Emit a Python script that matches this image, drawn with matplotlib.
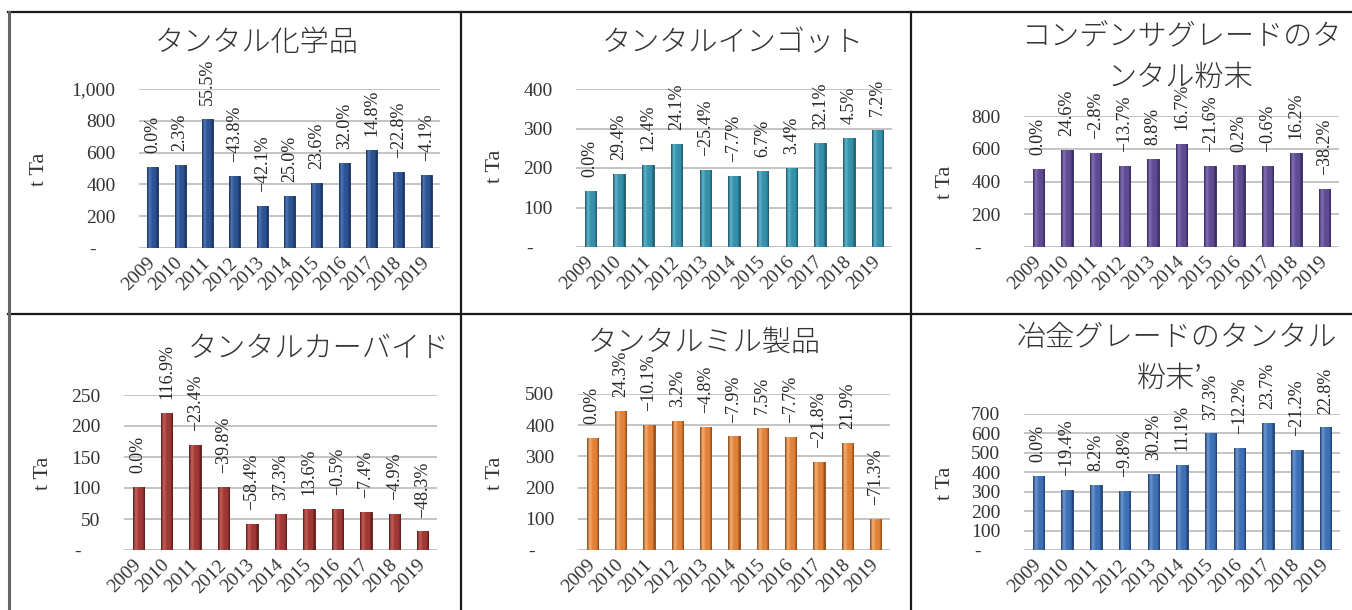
import matplotlib
matplotlib.use("Agg")
import numpy as np
import matplotlib.pyplot as plt
from matplotlib.colors import LinearSegmentedColormap
from matplotlib.lines import Line2D

# figure size in pixels (dpi 100)
W, H = 1352, 610

years = ["2009", "2010", "2011", "2012", "2013", "2014",
         "2015", "2016", "2017", "2018", "2019"]

# t Ta per year, with year-on-year change (%)
chem_vals = [510, 520, 810, 455, 263, 329, 407, 537, 617, 476, 457]
chem_pct = [0.0, 2.3, 55.5, -43.8, -42.1, 25.0, 23.6, 32.0, 14.8, -22.8, -4.1]

ingot_vals = [143, 185, 208, 262, 196, 181, 193, 200, 264, 276, 296]
ingot_pct = [0.0, 29.4, 12.4, 24.1, -25.4, -7.7, 6.7, 3.4, 32.1, 4.5, 7.2]

cap_vals = [474, 591, 574, 496, 540, 632, 497, 498, 495, 575, 355]
cap_pct = [0.0, 24.6, -2.8, -13.7, 8.8, 16.7, -21.6, 0.2, -0.6, 16.2, -38.2]

carbide_vals = [102, 221, 169, 102, 42.4, 58.2, 66.1, 65.8, 60.9, 57.9, 29.9]
carbide_pct = [0.0, 116.9, -23.4, -39.8, -58.4, 37.3, 13.6, -0.5, -7.4, -4.9, -48.3]

mill_vals = [360, 447, 402, 415, 395, 364, 391, 361, 282, 344, 99]
mill_pct = [0.0, 24.3, -10.1, 3.2, -4.8, -7.9, 7.5, -7.7, -21.8, 21.9, -71.3]

metal_vals = [383, 309, 334, 302, 393, 437, 600, 527, 652, 514, 631]
metal_pct = [0.0, -19.4, 8.2, -9.8, 30.2, 11.1, 37.3, -12.2, 23.7, -21.2, 22.8]

plt.rcParams['font.family'] = ['Liberation Serif', 'Noto Sans CJK JP', 'DejaVu Sans']

fig = plt.figure(figsize=(W / 100, H / 100), dpi=100)
fig.patch.set_facecolor('white')


def px_axes(l, t, r, b):
    """Axes from pixel box (left, top, right, bottom)."""
    return fig.add_axes([l / W, 1 - b / H, (r - l) / W, (b - t) / H])


def fig_text(x, y, s, **kw):
    fig.text(x / W, 1 - y / H, s, **kw)


def fmt_pct(p):
    return f"{p:.1f}%".replace("-", "\u2212")


def draw_panel(ax, vals, pct, ymax, step, cols):
    dark, light, main = cols
    x = np.arange(len(years))
    bars = ax.bar(x, vals, width=0.4, color=main, edgecolor=dark,
                  linewidth=0.6, zorder=3)
    # cylinder-like shading inside each bar
    cmap = LinearSegmentedColormap.from_list(
        "bev", [(0, dark), (0.22, light), (0.5, main), (0.8, main), (1, dark)])
    grad = np.linspace(0, 1, 64).reshape(1, -1)
    for b in bars:
        x0, w, h = b.get_x(), b.get_width(), b.get_height()
        im = ax.imshow(grad, cmap=cmap, extent=[x0, x0 + w, 0, h],
                       aspect='auto', zorder=3.5, interpolation='bilinear')
        im.set_clip_path(b)
    for xi, v, p in zip(x, vals, pct):
        ax.annotate(fmt_pct(p), (xi, v), xytext=(0, 10),
                    textcoords='offset points', rotation=90,
                    ha='center', va='bottom', fontsize=13,
                    color='#262626', annotation_clip=False)

    ax.set_xlim(-0.5, len(years) - 0.5)
    ax.set_ylim(0, ymax)
    ticks = list(range(0, ymax + 1, step))
    ax.set_yticks(ticks)
    ax.set_yticklabels(["-"] + [f"{t:,}" for t in ticks[1:]])
    ax.yaxis.grid(True, color='#c4c4c4', linewidth=1.4, zorder=0)
    ax.set_axisbelow(True)
    ax.set_xticks(x)
    ax.set_xticklabels(years, rotation=45, ha='right', va='center',
                       rotation_mode='anchor')
    ax.tick_params(axis='y', length=0, pad=17, labelsize=14,
                   labelcolor='#333333')
    ax.tick_params(axis='x', length=0, pad=9, labelsize=14,
                   labelcolor='#333333')
    ax.yaxis.get_major_ticks()[0].set_pad(31)
    for s in ax.spines.values():
        s.set_visible(False)
    ax.set_facecolor('none')


blue1 = ('#18305a', '#4f79bb', '#2c5392')
teal = ('#1d5566', '#5fb4cb', '#3590aa')
purple = ('#33265a', '#8470b5', '#5f4b92')
red = ('#561918', '#c8605a', '#a03935')
orange = ('#8a4512', '#f5b175', '#e2823a')
blue2 = ('#1e3b68', '#6e98d2', '#3e70b6')

ax1 = px_axes(139, 89, 440, 248)
draw_panel(ax1, chem_vals, chem_pct, 1000, 200, blue1)
ax2 = px_axes(576, 89, 892, 247)
draw_panel(ax2, ingot_vals, ingot_pct, 400, 100, teal)
ax3 = px_axes(1024, 116, 1339, 247)
draw_panel(ax3, cap_vals, cap_pct, 800, 200, purple)
ax4 = px_axes(124, 395, 437, 550)
draw_panel(ax4, carbide_vals, carbide_pct, 250, 50, red)
ax5 = px_axes(578, 394, 890, 550)
draw_panel(ax5, mill_vals, mill_pct, 500, 100, orange)
ax6 = px_axes(1024, 414, 1340, 550)
draw_panel(ax6, metal_vals, metal_pct, 700, 100, blue2)

title_kw = dict(ha='center', va='center', fontsize=21, color='#333333',
                family=['Noto Sans CJK JP'], fontweight='light')
fig_text(257, 43, "タンタル化学品", **title_kw)
fig_text(733, 43, "タンタルインゴット", **title_kw)
fig_text(1181, 37, "コンデンサグレードのタ", **title_kw)
fig_text(1180, 78, "ンタル粉末", **title_kw)
fig_text(319, 349, "タンタルカーバイド", **title_kw)
fig_text(704, 343, "タンタルミル製品", **title_kw)
fig_text(1177, 338, "冶金グレードのタンタル", **title_kw)
fig_text(1170, 379, "粉末’", **title_kw)

ylab_kw = dict(ha='center', va='center', rotation=90, fontsize=16,
               color='#333333')
fig_text(40, 169, "t Ta", **ylab_kw)
fig_text(496, 166, "t Ta", **ylab_kw)
fig_text(945, 182, "t Ta", **ylab_kw)
fig_text(43, 473, "t Ta", **ylab_kw)
fig_text(495, 473, "t Ta", **ylab_kw)
fig_text(945, 483, "t Ta", **ylab_kw)

# cell borders of the table
line_kw = dict(color='#1a1a1a', linewidth=1.6, transform=fig.transFigure)
fig.add_artist(Line2D([8 / W, 1], [1 - 12 / H, 1 - 12 / H], **line_kw))
fig.add_artist(Line2D([8 / W, 1], [1 - 314 / H, 1 - 314 / H], **line_kw))
fig.add_artist(Line2D([9 / W, 9 / W], [1 - 12 / H, 0], color='#666666',
                      linewidth=2.2, transform=fig.transFigure))
fig.add_artist(Line2D([461 / W, 461 / W], [1 - 12 / H, 0], **line_kw))
fig.add_artist(Line2D([911 / W, 911 / W], [1 - 12 / H, 0], **line_kw))

fig.savefig("out.png", dpi=100)
